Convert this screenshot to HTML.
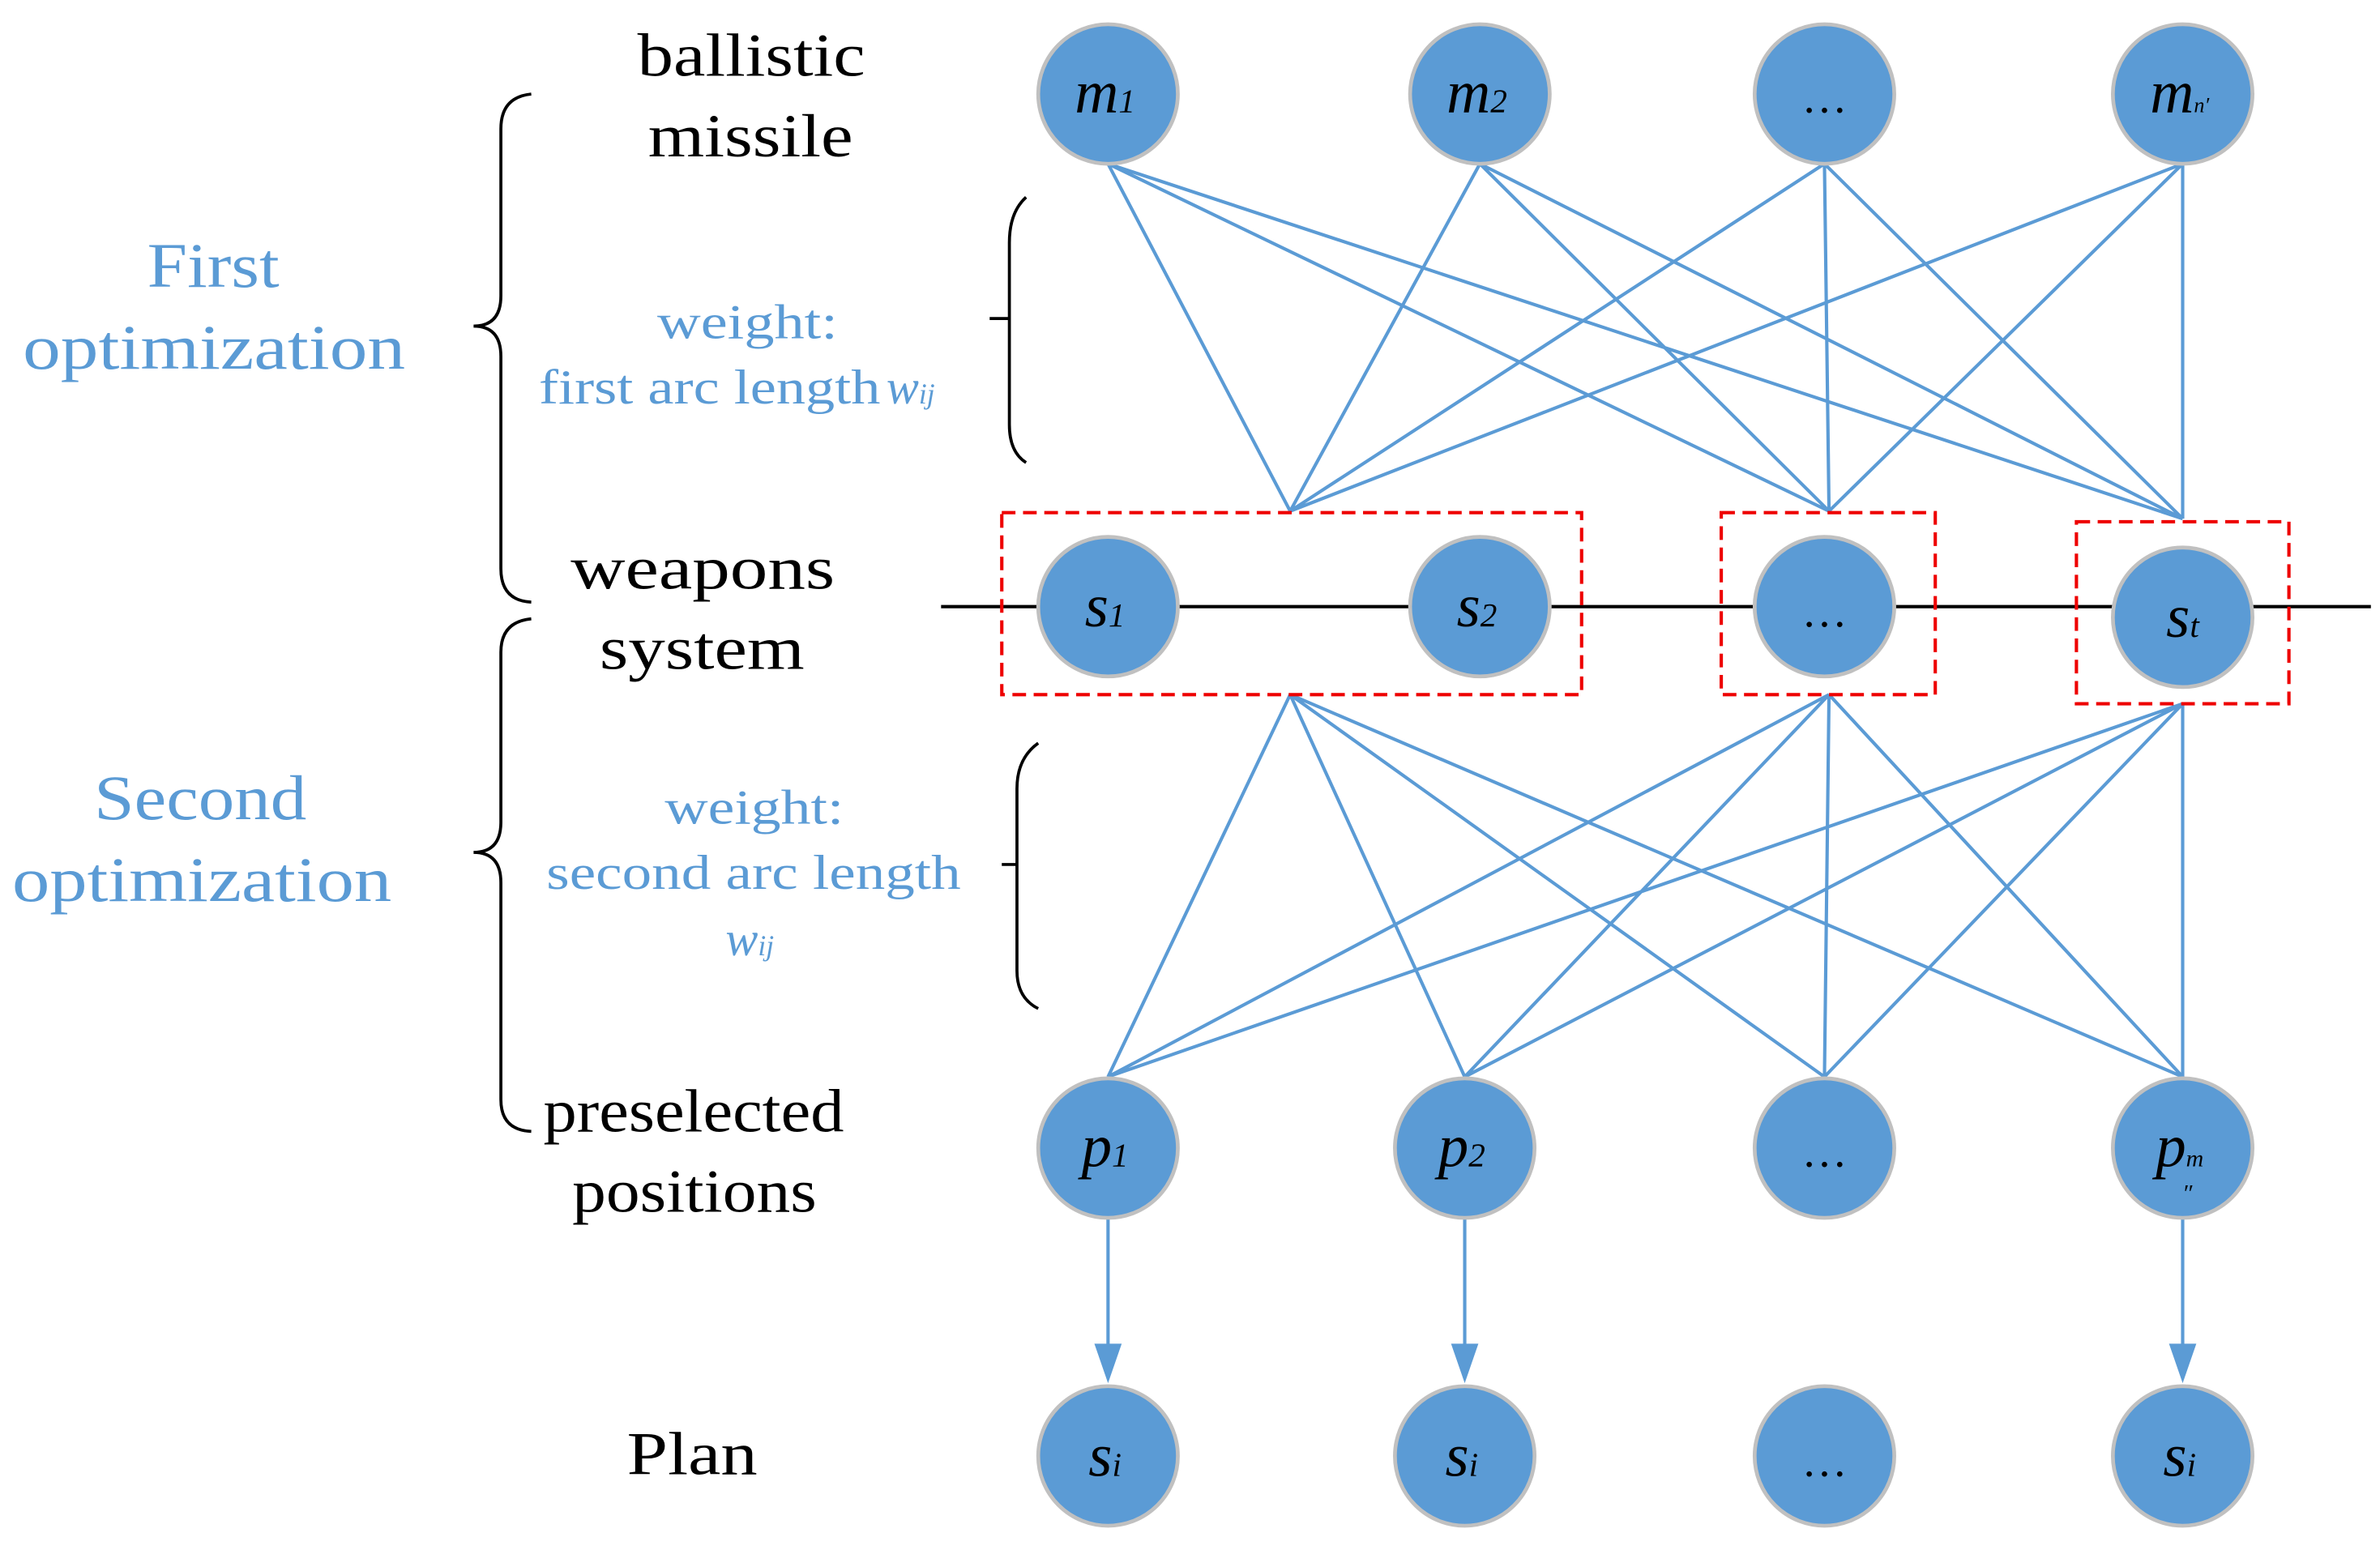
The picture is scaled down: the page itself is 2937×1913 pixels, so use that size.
<!DOCTYPE html>
<html><head><style>html,body{margin:0;padding:0;background:#fff}svg{display:block}</style></head>
<body>
<svg width="2937" height="1913" viewBox="0 0 1568 1022" preserveAspectRatio="none" xmlns="http://www.w3.org/2000/svg" font-family="Liberation Serif, serif">
<g stroke="#5b9bd5" stroke-width="2.2" fill="none">
<path d="M730 108L850 337M730 108L1205 337M730 108L1438 342
M975 108L850 337M975 108L1205 337M975 108L1438 342
M1202 108L850 337M1202 108L1205 337M1202 108L1438 342
M1438 108L850 337M1438 108L1205 337M1438 108L1438 342"/>
<path d="M850 458L730 710M850 458L965 710M850 458L1202 710M850 458L1438 710
M1205 458L730 710M1205 458L965 710M1205 458L1202 710M1205 458L1438 710
M1438 464L730 710M1438 464L965 710M1438 464L1202 710M1438 464L1438 710"/>
<path d="M730 803V890M965 803V890M1438 803V890"/>
</g>
<g fill="#5b9bd5"><path d="M721 886L739 886L730 912Z"/><path d="M956 886L974 886L965 912Z"/><path d="M1429 886L1447 886L1438 912Z"/></g>
<line x1="620" y1="400" x2="1562" y2="400" stroke="#000" stroke-width="2.2"/>
<g fill="none" stroke="#e00" stroke-width="2.2" stroke-dasharray="9,5">
<rect x="660" y="338" width="382" height="120"/>
<rect x="1134" y="338" width="141" height="120"/>
<rect x="1368" y="344" width="140" height="120"/>
</g>
<g fill="#5b9bd5" stroke="#c0c0c0" stroke-width="2.5">
<circle cx="730" cy="62" r="46"/><circle cx="975" cy="62" r="46"/><circle cx="1202" cy="62" r="46"/><circle cx="1438" cy="62" r="46"/>
<circle cx="730" cy="400" r="46"/><circle cx="975" cy="400" r="46"/><circle cx="1202" cy="400" r="46"/><circle cx="1438" cy="407" r="46"/>
<circle cx="730" cy="757" r="46"/><circle cx="965" cy="757" r="46"/><circle cx="1202" cy="757" r="46"/><circle cx="1438" cy="757" r="46"/>
<circle cx="730" cy="960" r="46"/><circle cx="965" cy="960" r="46"/><circle cx="1202" cy="960" r="46"/><circle cx="1438" cy="960" r="46"/>
</g>
<g font-style="italic" font-size="40" fill="#000" text-anchor="middle">
<text x="728" y="74">m<tspan font-size="22">1</tspan></text>
<text x="973" y="74">m<tspan font-size="22">2</tspan></text>
<text x="1202" y="74" font-style="normal" font-size="30">…</text>
<text x="1436" y="74">m<tspan font-size="14">n′</tspan></text>
<text x="728" y="413">s<tspan font-size="22">1</tspan></text>
<text x="973" y="413">s<tspan font-size="22">2</tspan></text>
<text x="1202" y="413" font-style="normal" font-size="30">…</text>
<text x="1438" y="420">s<tspan font-size="22">t</tspan></text>
<text x="728" y="769">p<tspan font-size="22">1</tspan></text>
<text x="963" y="769">p<tspan font-size="22">2</tspan></text>
<text x="1202" y="769" font-style="normal" font-size="30">…</text>
<text x="1436" y="769">p<tspan font-size="16">m</tspan></text>
<text x="1441" y="792" font-size="16">″</text>
<text x="728" y="973">s<tspan font-size="22">i</tspan></text>
<text x="963" y="973">s<tspan font-size="22">i</tspan></text>
<text x="1202" y="973" font-style="normal" font-size="30">…</text>
<text x="1436" y="973">s<tspan font-size="22">i</tspan></text>
</g>
<g fill="none" stroke="#000" stroke-width="2">
<path d="M350 62Q330 64 330 85V195Q330 215 312 215Q330 215 330 235V375Q330 396 350 397"/>
<path d="M350 408Q330 410 330 430V542Q330 562 312 562Q330 562 330 582V725Q330 745 350 746"/>
<path d="M676 130Q665 140 665 160V210H652H665V280Q665 298 676 305"/>
<path d="M684 490Q670 500 670 520V570H660H670V640Q670 658 684 665"/>
</g>
<g font-size="40" fill="#000" lengthAdjust="spacingAndGlyphs">
<text x="420" y="50" textLength="150" lengthAdjust="spacingAndGlyphs">ballistic</text>
<text x="427" y="103" textLength="135" lengthAdjust="spacingAndGlyphs">missile</text>
<text x="376" y="388" textLength="174" lengthAdjust="spacingAndGlyphs">weapons</text>
<text x="395" y="441" textLength="135" lengthAdjust="spacingAndGlyphs">system</text>
<text x="358" y="746" textLength="198" lengthAdjust="spacingAndGlyphs">preselected</text>
<text x="377" y="799" textLength="161" lengthAdjust="spacingAndGlyphs">positions</text>
<text x="413" y="972" textLength="86" lengthAdjust="spacingAndGlyphs">Plan</text>
</g>
<g font-size="42" fill="#5b9bd5">
<text x="97" y="189" textLength="87" lengthAdjust="spacingAndGlyphs">First</text>
<text x="15" y="243" textLength="252" lengthAdjust="spacingAndGlyphs">optimization</text>
<text x="62" y="540" textLength="140" lengthAdjust="spacingAndGlyphs">Second</text>
<text x="8" y="594" textLength="250" lengthAdjust="spacingAndGlyphs">optimization</text>
</g>
<g font-size="32" fill="#5b9bd5">
<text x="433" y="223" textLength="119" lengthAdjust="spacingAndGlyphs">weight:</text>
<text x="355" y="266" textLength="225" lengthAdjust="spacingAndGlyphs">first arc length</text>
<text x="584" y="266" font-style="italic">w<tspan font-size="19">ij</tspan></text>
<text x="438" y="543" textLength="118" lengthAdjust="spacingAndGlyphs">weight:</text>
<text x="360" y="586" textLength="273" lengthAdjust="spacingAndGlyphs">second arc length</text>
<text x="478" y="630" font-style="italic">w<tspan font-size="19">ij</tspan></text>
</g>
</svg>
</body></html>
